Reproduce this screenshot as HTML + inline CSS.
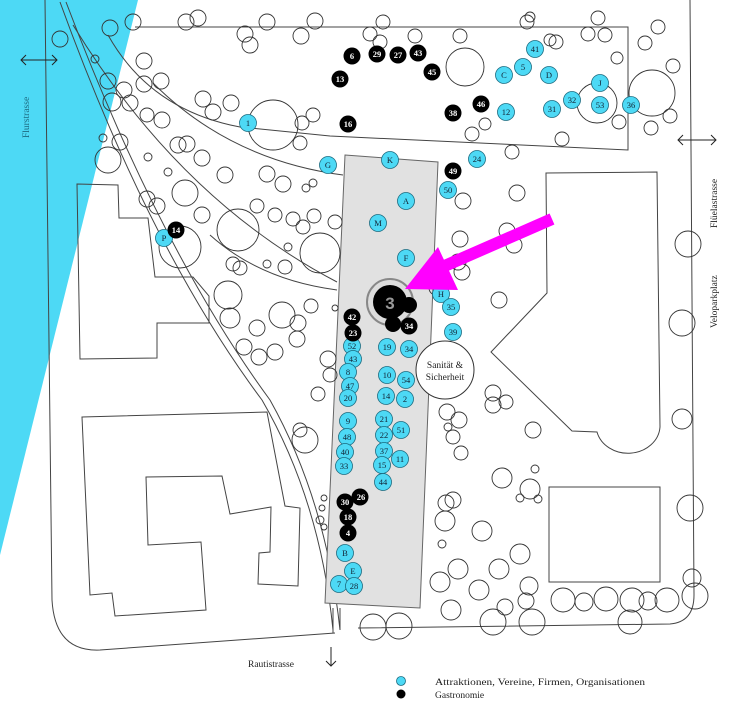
<!DOCTYPE html>
<html><head><meta charset="utf-8"><style>
html,body{margin:0;padding:0;background:#fff;}
svg{display:block;}
.t{fill:none;stroke:#333;stroke-width:0.9;}
.l{fill:none;stroke:#444;stroke-width:1;}
.b{fill:#4dd9f5;stroke:#1a6b80;stroke-width:0.8;}
.k{fill:#000;}
.bt{font-family:"Liberation Serif",serif;font-size:8.5px;fill:#123;text-anchor:middle;}
.kt{font-family:"Liberation Serif",serif;font-size:8.5px;fill:#fff;text-anchor:middle;font-weight:bold;}
.lab{font-family:"Liberation Serif",serif;font-size:9.5px;fill:#222;}
</style></head><body>
<svg width="731" height="705" viewBox="0 0 731 705" xmlns="http://www.w3.org/2000/svg">
<polygon points="0,0 138,0 0,555" fill="#4dd9f5"/>
<path class="l" d="M45,0 L52,600 Q55,652 100,650 L335,633"/>
<path class="l" d="M358,628 L670,624 Q694,622 694,595 L690,0"/>
<path class="l" d="M60,2 Q150,250 262,400 Q320,500 333,630"/>
<path class="l" d="M66,2 Q160,250 270,400 Q326,500 340,630"/>
<path class="l" d="M73,25 Q180,200 337,282"/>
<path class="l" d="M210,235 Q260,280 337,290"/>
<path class="l" d="M108,35 Q150,110 240,127 L330,136 L628,150 L628,27 L135,27"/>
<path class="l" d="M153,83 Q230,160 343,175"/>
<line class="l" x1="333" y1="608" x2="333" y2="633"/><line class="l" x1="340" y1="608" x2="340" y2="630"/>
<polygon points="345,155 438,162 420,608 325,603" fill="#e1e1e1" stroke="#666" stroke-width="1"/>
<polygon class="l" points="77,184 118,185 119,218 148,218 155,277 193,277 209,296 209,323 157,323 157,358 80,359"/>
<polygon class="l" points="82,417 267,412 285,506 300,508 298,586 258,584 259,553 270,552 271,507 230,514 222,476 146,477 148,545 201,542 206,610 115,616 112,593 90,595"/>
<path class="l" d="M546,173 L657,172 L660,427 A32,28 0 0 1 597,432 L572,431 L491,352 L547,293 Z"/>
<rect class="l" x="549" y="487" width="111" height="95"/>
<g class="t">
<circle cx="60" cy="39" r="8"/><circle cx="110" cy="28" r="8"/><circle cx="133" cy="22" r="8"/><circle cx="186" cy="22" r="8"/><circle cx="198" cy="18" r="8"/><circle cx="245" cy="34" r="8"/><circle cx="250" cy="45" r="8"/><circle cx="267" cy="22" r="8"/><circle cx="301" cy="36" r="8"/><circle cx="315" cy="21" r="8"/>
<circle cx="95" cy="59" r="4"/><circle cx="144" cy="61" r="8"/><circle cx="144" cy="84" r="8"/><circle cx="161" cy="81" r="8"/><circle cx="124" cy="90" r="8"/><circle cx="108" cy="81" r="8"/><circle cx="112" cy="102" r="9"/><circle cx="130" cy="103" r="8"/><circle cx="147" cy="115" r="7"/><circle cx="162" cy="120" r="8"/><circle cx="120" cy="142" r="8"/><circle cx="103" cy="138" r="4"/><circle cx="108" cy="160" r="13"/>
<circle cx="203" cy="99" r="8"/><circle cx="213" cy="112" r="8"/><circle cx="231" cy="103" r="8"/><circle cx="273" cy="125" r="25"/><circle cx="302" cy="123" r="7"/><circle cx="313" cy="115" r="7"/><circle cx="300" cy="143" r="7"/>
<circle cx="178" cy="145" r="8"/><circle cx="187" cy="144" r="8"/><circle cx="202" cy="158" r="8"/><circle cx="148" cy="157" r="4"/><circle cx="168" cy="172" r="4"/><circle cx="225" cy="175" r="8"/><circle cx="267" cy="174" r="8"/><circle cx="283" cy="184" r="8"/><circle cx="306" cy="188" r="4"/><circle cx="313" cy="183" r="4"/>
<circle cx="185" cy="193" r="13"/><circle cx="147" cy="199" r="8"/><circle cx="157" cy="206" r="8"/><circle cx="202" cy="215" r="8"/><circle cx="238" cy="230" r="21"/><circle cx="257" cy="206" r="7"/><circle cx="275" cy="215" r="7"/><circle cx="293" cy="219" r="7"/><circle cx="303" cy="227" r="7"/><circle cx="314" cy="216" r="7"/><circle cx="335" cy="222" r="7"/><circle cx="320" cy="253" r="20"/><circle cx="288" cy="247" r="4"/><circle cx="267" cy="264" r="4"/><circle cx="285" cy="267" r="7"/><circle cx="233" cy="264" r="7"/><circle cx="240" cy="268" r="7"/><circle cx="180" cy="247" r="21"/>
<circle cx="228" cy="295" r="14"/><circle cx="230" cy="318" r="10"/><circle cx="282" cy="315" r="13"/><circle cx="298" cy="323" r="8"/><circle cx="297" cy="339" r="8"/><circle cx="257" cy="328" r="8"/><circle cx="244" cy="347" r="8"/><circle cx="259" cy="357" r="8"/><circle cx="275" cy="352" r="8"/><circle cx="311" cy="306" r="7"/><circle cx="335" cy="308" r="3"/><circle cx="328" cy="359" r="8"/><circle cx="330" cy="375" r="7"/><circle cx="318" cy="394" r="7"/><circle cx="305" cy="440" r="13"/><circle cx="300" cy="430" r="7"/>
<circle cx="324" cy="498" r="3"/><circle cx="322" cy="508" r="3"/><circle cx="320" cy="520" r="4"/><circle cx="324" cy="527" r="3"/>
<circle cx="383" cy="22" r="7"/><circle cx="370" cy="34" r="7"/><circle cx="380" cy="42" r="7"/><circle cx="415" cy="36" r="7"/><circle cx="460" cy="36" r="7"/><circle cx="465" cy="67" r="19"/><circle cx="527" cy="22" r="7"/><circle cx="530" cy="17" r="5"/><circle cx="598" cy="18" r="7"/><circle cx="588" cy="34" r="7"/><circle cx="556" cy="42" r="7"/><circle cx="605" cy="35" r="7"/><circle cx="658" cy="27" r="7"/><circle cx="645" cy="43" r="7"/><circle cx="617" cy="58" r="6"/><circle cx="673" cy="66" r="7"/><circle cx="652" cy="93" r="23"/><circle cx="670" cy="116" r="7"/><circle cx="651" cy="128" r="7"/><circle cx="619" cy="122" r="7"/><circle cx="597" cy="103" r="20"/><circle cx="472" cy="134" r="7"/><circle cx="485" cy="124" r="6"/><circle cx="562" cy="139" r="7"/><circle cx="512" cy="152" r="7"/><circle cx="550" cy="40" r="6"/>
<circle cx="517" cy="193" r="8"/><circle cx="463" cy="201" r="8"/><circle cx="507" cy="231" r="8"/><circle cx="514" cy="245" r="8"/><circle cx="460" cy="239" r="8"/><circle cx="458" cy="262" r="8"/><circle cx="462" cy="272" r="8"/><circle cx="499" cy="300" r="8"/><circle cx="688" cy="244" r="13"/><circle cx="682" cy="323" r="13"/><circle cx="682" cy="419" r="10"/>
<circle cx="493" cy="393" r="8"/><circle cx="493" cy="405" r="8"/><circle cx="506" cy="402" r="7"/><circle cx="447" cy="412" r="8"/><circle cx="459" cy="420" r="8"/><circle cx="448" cy="427" r="4"/><circle cx="453" cy="437" r="7"/><circle cx="461" cy="453" r="7"/><circle cx="533" cy="430" r="8"/>
<circle cx="535" cy="469" r="4"/><circle cx="502" cy="478" r="10"/><circle cx="530" cy="489" r="10"/><circle cx="520" cy="498" r="4"/><circle cx="538" cy="499" r="4"/><circle cx="446" cy="503" r="8"/><circle cx="453" cy="500" r="8"/><circle cx="445" cy="521" r="10"/><circle cx="482" cy="531" r="10"/><circle cx="442" cy="544" r="4"/><circle cx="520" cy="554" r="10"/><circle cx="458" cy="569" r="10"/><circle cx="499" cy="569" r="10"/><circle cx="440" cy="582" r="10"/><circle cx="479" cy="590" r="10"/><circle cx="529" cy="586" r="9"/><circle cx="526" cy="601" r="8"/><circle cx="505" cy="607" r="8"/><circle cx="451" cy="610" r="10"/><circle cx="493" cy="622" r="13"/><circle cx="532" cy="622" r="13"/><circle cx="563" cy="600" r="12"/><circle cx="584" cy="602" r="9"/><circle cx="606" cy="599" r="12"/><circle cx="632" cy="600" r="12"/><circle cx="648" cy="601" r="9"/><circle cx="667" cy="600" r="12"/><circle cx="695" cy="596" r="13"/><circle cx="692" cy="578" r="9"/><circle cx="630" cy="622" r="12"/><circle cx="690" cy="508" r="13"/><circle cx="373" cy="627" r="13"/><circle cx="399" cy="626" r="13"/><circle cx="436" cy="288" r="7"/>
</g>
<circle cx="445" cy="370" r="29" fill="#fff" stroke="#333" stroke-width="1"/>
<text class="lab" x="445" y="368" text-anchor="middle" font-size="10">Sanität &amp;</text>
<text class="lab" x="445" y="380" text-anchor="middle" font-size="10">Sicherheit</text>
<circle cx="390" cy="302" r="23" fill="#ddd" stroke="#888" stroke-width="2"/>
<circle cx="409" cy="305" r="8" class="k"/><circle cx="393" cy="324" r="8" class="k"/>
<circle cx="390" cy="302" r="17" class="k"/>
<text x="390" y="309" font-family="Liberation Sans,sans-serif" font-size="17" font-weight="bold" fill="#999" text-anchor="middle">3</text>
<g>
<g class="b">
<circle cx="328" cy="165" r="8.5"/><circle cx="390" cy="160" r="8.5"/><circle cx="477" cy="159" r="8.5"/><circle cx="448" cy="190" r="8.5"/><circle cx="406" cy="201" r="8.5"/><circle cx="378" cy="223" r="8.5"/><circle cx="406" cy="258" r="8.5"/><circle cx="441" cy="294" r="8.5"/><circle cx="451" cy="307" r="8.5"/><circle cx="453" cy="332" r="8.5"/><circle cx="387" cy="347" r="8.5"/><circle cx="409" cy="349" r="8.5"/><circle cx="352" cy="346" r="8.5"/><circle cx="353" cy="359" r="8.5"/><circle cx="348" cy="372" r="8.5"/><circle cx="350" cy="386" r="8.5"/><circle cx="348" cy="398" r="8.5"/><circle cx="387" cy="375" r="8.5"/><circle cx="406" cy="380" r="8.5"/><circle cx="386" cy="396" r="8.5"/><circle cx="405" cy="399" r="8.5"/><circle cx="348" cy="421" r="8.5"/><circle cx="347" cy="437" r="8.5"/><circle cx="345" cy="452" r="8.5"/><circle cx="344" cy="466" r="8.5"/><circle cx="384" cy="419" r="8.5"/><circle cx="384" cy="435" r="8.5"/><circle cx="401" cy="430" r="8.5"/><circle cx="384" cy="451" r="8.5"/><circle cx="382" cy="465" r="8.5"/><circle cx="400" cy="459" r="8.5"/><circle cx="383" cy="482" r="8.5"/><circle cx="345" cy="553" r="8.5"/><circle cx="353" cy="571" r="8.5"/><circle cx="339" cy="584" r="8.5"/><circle cx="354" cy="586" r="8.5"/><circle cx="164" cy="238" r="8.5"/><circle cx="248" cy="123" r="8.5"/><circle cx="504" cy="75" r="8.5"/><circle cx="523" cy="67" r="8.5"/><circle cx="535" cy="49" r="8.5"/><circle cx="549" cy="75" r="8.5"/><circle cx="506" cy="112" r="8.5"/><circle cx="552" cy="109" r="8.5"/><circle cx="572" cy="100" r="8.5"/><circle cx="600" cy="83" r="8.5"/><circle cx="600" cy="105" r="8.5"/><circle cx="631" cy="105" r="8.5"/>
</g>
<g class="bt">
<text x="328" y="168">G</text><text x="390" y="163">K</text><text x="477" y="162">24</text><text x="448" y="193">50</text><text x="406" y="204">A</text><text x="378" y="226">M</text><text x="406" y="261">F</text><text x="441" y="297">H</text><text x="451" y="310">35</text><text x="453" y="335">39</text><text x="387" y="350">19</text><text x="409" y="352">34</text><text x="352" y="349">52</text><text x="353" y="362">43</text><text x="348" y="375">8</text><text x="350" y="389">47</text><text x="348" y="401">20</text><text x="387" y="378">10</text><text x="406" y="383">54</text><text x="386" y="399">14</text><text x="405" y="402">2</text><text x="348" y="424">9</text><text x="347" y="440">48</text><text x="345" y="455">40</text><text x="344" y="469">33</text><text x="384" y="422">21</text><text x="384" y="438">22</text><text x="401" y="433">51</text><text x="384" y="454">37</text><text x="382" y="468">15</text><text x="400" y="462">11</text><text x="383" y="485">44</text><text x="345" y="556">B</text><text x="353" y="574">E</text><text x="339" y="587">7</text><text x="354" y="589">28</text><text x="164" y="241">P</text><text x="248" y="126">1</text><text x="504" y="78">C</text><text x="523" y="70">5</text><text x="535" y="52">41</text><text x="549" y="78">D</text><text x="506" y="115">12</text><text x="552" y="112">31</text><text x="572" y="103">32</text><text x="600" y="86">J</text><text x="600" y="108">53</text><text x="631" y="108">36</text>
</g>
</g>
<g class="k">
<circle cx="352" cy="56" r="8.5"/><circle cx="377" cy="54" r="8.5"/><circle cx="398" cy="55" r="8.5"/><circle cx="418" cy="53" r="8.5"/><circle cx="432" cy="72" r="8.5"/><circle cx="340" cy="79" r="8.5"/><circle cx="348" cy="124" r="8.5"/><circle cx="453" cy="113" r="8.5"/><circle cx="481" cy="104" r="8.5"/><circle cx="453" cy="171" r="8.5"/><circle cx="176" cy="230" r="8.5"/><circle cx="352" cy="317" r="8.5"/><circle cx="353" cy="333" r="8.5"/><circle cx="409" cy="326" r="8.5"/><circle cx="360" cy="497" r="8.5"/><circle cx="345" cy="502" r="8.5"/><circle cx="348" cy="517" r="8.5"/><circle cx="348" cy="533" r="8.5"/>
</g>
<g class="kt">
<text x="352" y="59">6</text><text x="377" y="57">29</text><text x="398" y="58">27</text><text x="418" y="56">43</text><text x="432" y="75">45</text><text x="340" y="82">13</text><text x="348" y="127">16</text><text x="453" y="116">38</text><text x="481" y="107">46</text><text x="453" y="174">49</text><text x="176" y="233">14</text><text x="352" y="320">42</text><text x="353" y="336">23</text><text x="409" y="329">34</text><text x="361" y="500">26</text><text x="345" y="505">30</text><text x="348" y="520">18</text><text x="348" y="536">4</text>
</g>
<line x1="552" y1="219" x2="440" y2="268" stroke="#ff00ff" stroke-width="12"/>
<polygon points="405,289 438,247 458,290" fill="#ff00ff"/>
<g stroke="#222" stroke-width="1" fill="none">
<line x1="21" y1="60" x2="57" y2="60"/><polyline points="26,55 21,60 26,65"/><polyline points="52,55 57,60 52,65"/>
<line x1="678" y1="140" x2="716" y2="140"/><polyline points="683,135 678,140 683,145"/><polyline points="711,135 716,140 711,145"/>
<line x1="331" y1="647" x2="331" y2="666"/><polyline points="326,661 331,666 336,661"/>
</g>
<text class="lab" transform="translate(29,138) rotate(-90)" style="fill:#1d6a80">Flurstrasse</text>
<text class="lab" transform="translate(717,228) rotate(-90)">Flüelastrasse</text>
<text class="lab" transform="translate(717,328) rotate(-90)">Veloparkplatz</text>
<text class="lab" x="248" y="667">Rautistrasse</text>
<circle cx="401" cy="681" r="4.5" class="b"/>
<circle cx="401" cy="694" r="4.5" class="k"/>
<text class="lab" x="435" y="685" textLength="210" lengthAdjust="spacingAndGlyphs">Attraktionen, Vereine, Firmen, Organisationen</text>
<text class="lab" x="435" y="698">Gastronomie</text>
</svg>
</body></html>
